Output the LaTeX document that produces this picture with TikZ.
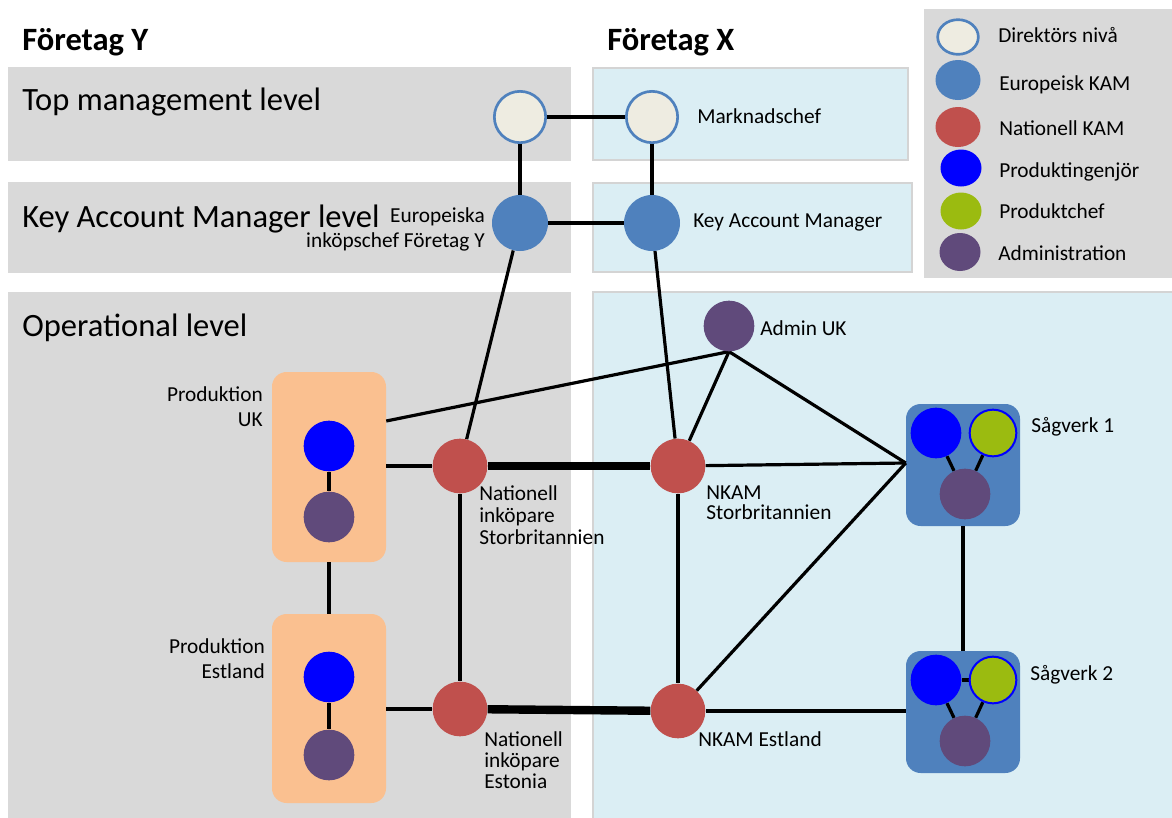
\documentclass[tikz,border=0pt]{standalone}
\usepackage{fontspec}
\setmainfont{Carlito}
\usetikzlibrary{shapes.geometric}

\definecolor{panelgray}{HTML}{D9D9D9}
\definecolor{panelblue}{HTML}{DBEEF4}
\definecolor{panelrim}{HTML}{D4D4D4}
\definecolor{dirfill}{HTML}{EEECE1}
\definecolor{kamblue}{HTML}{4F81BD}
\definecolor{natred}{HTML}{C0504D}
\definecolor{engblue}{HTML}{0000FF}
\definecolor{chefgreen}{HTML}{9BBB10}
\definecolor{adminpurple}{HTML}{604A7B}
\definecolor{prodpeach}{HTML}{FAC090}

\pgfdeclarelayer{panels}
\pgfdeclarelayer{boxes}
\pgfdeclarelayer{edges}
\pgfsetlayers{panels,boxes,edges,main}

\tikzset{
  dir/.style={circle, inner sep=0, fill=dirfill, draw=kamblue, line width=2pt, minimum size=38.5pt},
  ekam/.style={circle, inner sep=0, fill=kamblue, minimum size=42pt},
  nkam/.style={circle, inner sep=0, fill=natred, minimum size=41pt},
  eng/.style={circle, inner sep=0, fill=engblue, minimum size=38pt},
  chef/.style={circle, inner sep=0, fill=chefgreen, draw=engblue, line width=1.5pt, minimum size=35pt},
  adm/.style={circle, inner sep=0, fill=adminpurple, minimum size=38pt},
  ypanel/.style={fill=panelgray},
  xpanel/.style={fill=panelblue, draw=panelrim, line width=1.5pt},
  prodbox/.style={rectangle, rounded corners=11pt, fill=prodpeach, minimum width=85.5pt, inner sep=0},
  sawbox/.style={rectangle, rounded corners=11pt, fill=kamblue, minimum width=85.5pt, minimum height=91.5pt, inner sep=0},
  link/.style={line width=2.4pt},
  bond/.style={line width=6.3pt},
  lbl/.style={inner sep=0, font=\fontsize{16pt}{#1}\selectfont},
  lbl/.default=18.75pt,
  level/.style={inner sep=0, anchor=base west, font=\fontsize{24.4pt}{29pt}\selectfont},
  firm/.style={inner sep=0, anchor=base west, font=\fontsize{24.4pt}{29pt}\selectfont\bfseries},
  key/.style={ellipse, inner sep=0},
}

\begin{document}
\begin{tikzpicture}[x=0.75pt,y=-0.75pt]
\useasboundingbox (0,0) rectangle (1172,818);

% background panels
\begin{pgfonlayer}{panels}
  \fill[ypanel] (8,67) rectangle (571,161);
  \fill[ypanel] (8,182) rectangle (571,273);
  \fill[ypanel] (8,292) rectangle (571,818);
  \draw[xpanel] (593,68) rectangle (908,160);
  \draw[xpanel] (593,183) rectangle (912,272);
  \draw[xpanel] (593,292) rectangle (1180,826);
  \fill[panelgray] (924,9) rectangle (1172,278);
\end{pgfonlayer}

% headings
\node[firm] (firmY) at (22,50) {Företag Y};
\node[firm] (firmX) at (607,50) {Företag X};
\node[level] (lvTop) at (22,110) {Top management level};
\node[level] (lvKam) at (22,227) {Key Account Manager level};
\node[level] (lvOp) at (22,336) {Operational level};

% group boxes
\begin{pgfonlayer}{boxes}
  \node[prodbox, minimum height=142.5pt] (produk) at (329,467) {};
  \node[prodbox, minimum height=141.75pt] (prodee) at (329,708.5) {};
  \node[sawbox] (sag1) at (963,465) {};
  \node[sawbox] (sag2) at (963,712) {};
\end{pgfonlayer}

% people
\node[dir] (ydir) at (520,117) {};
\node[dir] (xdir) at (652,117) {};
\node[ekam] (ykam) at (520,223) {};
\node[ekam] (xkam) at (652,223) {};
\node[adm] (adminuk) at (729,326) {};
\node[nkam] (niuk) at (460,466) {};
\node[nkam] (nkamuk) at (678,466) {};
\node[nkam] (niee) at (460,709) {};
\node[nkam] (nkamee) at (678,711) {};

\node[eng] (engUK) at (329,446) {};
\node[adm] (admUK) at (329,517) {};
\node[eng] (engEE) at (329,677) {};
\node[adm] (admEE) at (329,755) {};

\node[eng] (eng1) at (936,433) {};
\node[chef] (chef1) at (993,433) {};
\node[adm] (adm1) at (965,494) {};
\node[eng] (eng2) at (936,680) {};
\node[chef] (chef2) at (993,680) {};
\node[adm] (adm2) at (965,741) {};

\coordinate (ukhook) at (produk.east |- 0,421);
\coordinate (s1hub) at (sag1.west |- 0,463);

% connectors
\begin{pgfonlayer}{edges}
  \draw[link] (ydir) -- (xdir);
  \draw[link] (ydir) -- (ykam);
  \draw[link] (xdir) -- (xkam);
  \draw[link] (ykam) -- (xkam);
  \draw[link] (ykam) -- (niuk);
  \draw[link] (xkam) -- (nkamuk);
  \draw[link] (niuk) -- (niee);
  \draw[link] (nkamuk) -- (nkamee);
  \draw[link] (produk.east |- niuk) -- (niuk);
  \draw[link] (prodee.east |- niee) -- (niee);
  \draw[link] (produk.south) -- (prodee.north);
  \draw[link] (ukhook) -- (adminuk.south);
  \draw[link] (adminuk.south) -- (nkamuk);
  \draw[link] (adminuk.south) -- (s1hub);
  \draw[link] (nkamuk) -- (s1hub);
  \draw[link] (nkamee) -- (s1hub);
  \draw[link] (nkamee) -- (sag2.west |- nkamee);
  \draw[link] (sag1.south) -- (sag2.north);
  \draw[bond] (niuk) -- (nkamuk);
  \draw[bond] (niee) -- (nkamee);
  \draw[link] (engUK) -- (admUK);
  \draw[link] (engEE) -- (admEE);
  \draw[link] (eng1) -- (adm1);
  \draw[link] (chef1) -- (adm1);
  \draw[link] (eng2) -- (adm2);
  \draw[link] (chef2) -- (adm2);
  \draw[link] (eng2) -- (chef2);
\end{pgfonlayer}

% labels (multi-line labels are placed by the baseline of their last line)
\node[lbl, anchor=base west] (tMark) at (697,123) {Marknadschef};
\node[lbl, anchor=base west] (tKam) at (693,227) {Key Account Manager};
\node[lbl, anchor=base east, align=right] (tEur) at (485,247) {Europeiska\\inköpschef Företag Y};
\node[lbl, anchor=base east, align=right] (tPuk) at (263,426) {Produktion\\UK};
\node[lbl, anchor=base east, align=right] (tPee) at (265,678) {Produktion\\Estland};
\node[lbl=16.5pt, anchor=base west, align=left] (tNiuk) at (479,544) {Nationell\\inköpare\\Storbritannien};
\node[lbl=15.4pt, anchor=base west, align=left] (tNiee) at (484,788) {Nationell\\inköpare\\Estonia};
\node[lbl=15pt, anchor=base west, align=left] (tNkuk) at (706,519) {NKAM\\Storbritannien};
\node[lbl, anchor=base west] (tNkee) at (698,746) {NKAM Estland};
\node[lbl, anchor=base west] (tAdm) at (760,335) {Admin UK};
\node[lbl, anchor=base west] (tS1) at (1031,432) {Sågverk 1};
\node[lbl, anchor=base west] (tS2) at (1030,680) {Sågverk 2};

% legend
\node[key, fill=dirfill, draw=kamblue, line width=2pt, minimum width=30.5pt, minimum height=26pt] (k1) at (958,37) {};
\node[key, fill=kamblue, minimum width=33.75pt, minimum height=30pt] (k2) at (958,80) {};
\node[key, fill=natred, minimum width=33.75pt, minimum height=30pt] (k3) at (958,127) {};
\node[key, fill=engblue, minimum width=30.75pt, minimum height=27.75pt] (k4) at (961,168) {};
\node[key, fill=chefgreen, minimum width=30.75pt, minimum height=27.75pt] (k5) at (961,211) {};
\node[key, fill=adminpurple, minimum width=30.75pt, minimum height=28.5pt] (k6) at (960,252) {};
\node[lbl, anchor=base west] (t1) at (998,42) {Direktörs nivå};
\node[lbl, anchor=base west] (t2) at (999,90) {Europeisk KAM};
\node[lbl, anchor=base west] (t3) at (999,135) {Nationell KAM};
\node[lbl, anchor=base west] (t4) at (999,177) {Produktingenjör};
\node[lbl, anchor=base west] (t5) at (999,218) {Produktchef};
\node[lbl, anchor=base west] (t6) at (998,260) {Administration};
\end{tikzpicture}
\end{document}
